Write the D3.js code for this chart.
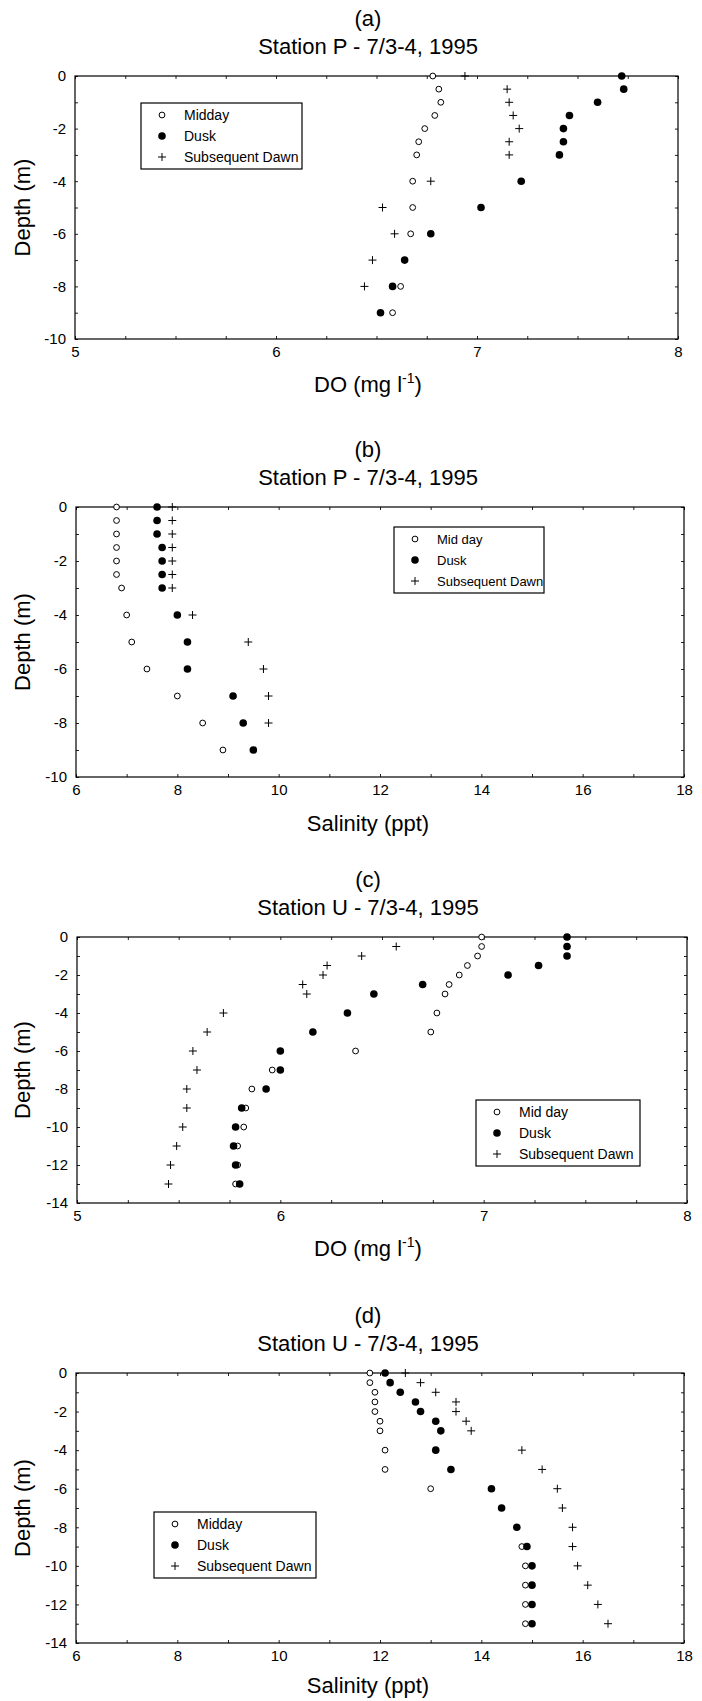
<!DOCTYPE html>
<meta charset="utf-8">
<style>
body { margin: 0; background: #fff; }
text { font-family: "Liberation Sans", Arial, sans-serif; fill: #000; }
</style>
<script src="https://cdn.jsdelivr.net/npm/d3@7"></script>
<body>
<script>
// depths (m) for the Station P profiles
var depthP = [0, -0.5, -1, -1.5, -2, -2.5, -3, -4, -5, -6, -7, -8, -9];
// depths (m) for the Station U profiles
var depthU = [0, -0.5, -1, -1.5, -2, -2.5, -3, -4, -5, -6, -7, -8, -9, -10, -11, -12, -13];

// (a) Station P, DO (mg/l)
var middayA = [6.78, 6.81, 6.82, 6.79, 6.74, 6.71, 6.70, 6.68, 6.68, 6.67, null, 6.62, 6.58];
var duskA   = [7.72, 7.73, 7.60, 7.46, 7.43, 7.43, 7.41, 7.22, 7.02, 6.77, 6.64, 6.58, 6.52];
var dawnA   = [6.94, 7.15, 7.16, 7.18, 7.21, 7.16, 7.16, 6.77, 6.53, 6.59, 6.48, 6.44, null];

// (b) Station P, salinity (ppt)
var middayB = [6.8, 6.8, 6.8, 6.8, 6.8, 6.8, 6.9, 7.0, 7.1, 7.4, 8.0, 8.5, 8.9];
var duskB   = [7.6, 7.6, 7.6, 7.7, 7.7, 7.7, 7.7, 8.0, 8.2, 8.2, 9.1, 9.3, 9.5];
var dawnB   = [7.9, 7.9, 7.9, 7.9, 7.9, 7.9, 7.9, 8.3, 9.4, 9.7, 9.8, 9.8, null];

// (c) Station U, DO (mg/l)
var middayC = [6.99, 6.99, 6.97, 6.92, 6.88, 6.83, 6.81, 6.77, 6.74, 6.37, 5.96, 5.86, 5.83, 5.82, 5.79, 5.79, 5.78];
var duskC   = [7.41, 7.41, 7.41, 7.27, 7.12, 6.70, 6.46, 6.33, 6.16, 6.00, 6.00, 5.93, 5.81, 5.78, 5.77, 5.78, 5.80];
var dawnC   = [null, 6.57, 6.40, 6.23, 6.21, 6.11, 6.13, 5.72, 5.64, 5.57, 5.59, 5.54, 5.54, 5.52, 5.49, 5.46, 5.45];

// (d) Station U, salinity (ppt)
var middayD = [11.8, 11.8, 11.9, 11.9, 11.9, 12.0, 12.0, 12.1, 12.1, 13.0, null, null, 14.8, 14.87, 14.87, 14.87, 14.87];
var duskD   = [12.1, 12.2, 12.4, 12.7, 12.8, 13.1, 13.2, 13.1, 13.4, 14.2, 14.4, 14.7, 14.9, 15.0, 15.0, 15.0, 15.0];
var dawnD   = [12.5, 12.8, 13.1, 13.5, 13.5, 13.7, 13.8, 14.8, 15.2, 15.5, 15.6, 15.8, 15.8, 15.9, 16.1, 16.3, 16.5];

// axis tick labels
var doTicks = [5, 6, 7, 8];
var salTicks = [6, 8, 10, 12, 14, 16, 18];
var depthTicksP = [0, -2, -4, -6, -8, -10];
var depthTicksU = [0, -2, -4, -6, -8, -10, -12, -14];

var titlesP = "Station P - 7/3-4, 1995";
var titlesU = "Station U - 7/3-4, 1995";

var svg = d3.select("body").append("svg")
  .attr("width", 702)
  .attr("height", 1701);

var plus = "M-4,0H4M0,-4V4";

function drawPanel(p) {
  var x = d3.scaleLinear().domain(p.xDomain).range([p.left, p.right]);
  var y = d3.scaleLinear().domain(p.yDomain).range([p.top, p.bottom]);
  var g = svg.append("g");

  // headings
  g.append("text").attr("x", 368).attr("y", p.top - 50)
    .attr("text-anchor", "middle").attr("font-size", "22px").text(p.letter);
  g.append("text").attr("x", 368).attr("y", p.top - 22)
    .attr("text-anchor", "middle").attr("font-size", "22px").text(p.title);

  // minor inward ticks on all four sides
  var xMinor = d3.range(p.xDomain[0], p.xDomain[1] + 1e-9, p.xStep);
  var yMinor = d3.range(p.yDomain[1], p.yDomain[0] + 1e-9, 1);
  g.append("g").attr("transform", "translate(0," + p.bottom + ")")
    .call(d3.axisBottom(x).tickValues(xMinor).tickSize(-3).tickFormat(""));
  g.append("g").attr("transform", "translate(0," + p.top + ")")
    .call(d3.axisTop(x).tickValues(xMinor).tickSize(-3).tickFormat(""));
  g.append("g").attr("transform", "translate(" + p.left + ",0)")
    .call(d3.axisLeft(y).tickValues(yMinor).tickSize(-3).tickFormat(""));
  g.append("g").attr("transform", "translate(" + p.right + ",0)")
    .call(d3.axisRight(y).tickValues(yMinor).tickSize(-3).tickFormat(""));
  g.selectAll(".domain").remove();
  g.selectAll(".tick line").attr("stroke", "#222");

  // tick labels
  var xl = g.append("g").attr("transform", "translate(0," + p.bottom + ")")
    .call(d3.axisBottom(x).tickValues(p.xTicks).tickSize(0).tickPadding(7).tickFormat(function(d) { return String(d); }));
  var yl = g.append("g").attr("transform", "translate(" + p.left + ",0)")
    .call(d3.axisLeft(y).tickValues(p.yTicks).tickSize(0).tickPadding(9).tickFormat(function(d) { return String(d); }));
  xl.select(".domain").remove();
  yl.select(".domain").remove();
  g.selectAll(".tick text").attr("font-size", "15px")
    .attr("font-family", "'Liberation Sans', Arial, sans-serif").attr("fill", "#000");

  // plot frame
  g.append("rect")
    .attr("x", p.left).attr("y", p.top)
    .attr("width", p.right - p.left).attr("height", p.bottom - p.top)
    .attr("fill", "none").attr("stroke", "#000").attr("stroke-width", 1.2);

  // axis titles
  var xt = g.append("text").attr("x", 368).attr("y", p.bottom + p.xLabelGap)
    .attr("text-anchor", "middle").attr("font-size", "22px");
  if (p.xLabel === "DO") {
    xt.append("tspan").text("DO (mg l");
    xt.append("tspan").attr("font-size", "14px").attr("dy", -9).text("-1");
    xt.append("tspan").attr("dy", 9).text(")");
  } else {
    xt.text(p.xLabel);
  }
  g.append("text")
    .attr("transform", "translate(30," + ((p.top + p.bottom) / 2) + ") rotate(-90)")
    .attr("text-anchor", "middle").attr("font-size", "22px").text("Depth (m)");

  // data
  function pts(vals) {
    return p.depth.map(function(d, i) { return { v: vals[i], d: d }; })
      .filter(function(e) { return e.v !== null; });
  }
  g.append("g").selectAll("circle").data(pts(p.midday)).enter().append("circle")
    .attr("cx", function(e) { return x(e.v); }).attr("cy", function(e) { return y(e.d); })
    .attr("r", 2.9).attr("fill", "#fff").attr("stroke", "#000").attr("stroke-width", 1);
  g.append("g").selectAll("circle").data(pts(p.dusk)).enter().append("circle")
    .attr("cx", function(e) { return x(e.v); }).attr("cy", function(e) { return y(e.d); })
    .attr("r", 3.8).attr("fill", "#000");
  g.append("g").selectAll("path").data(pts(p.dawn)).enter().append("path")
    .attr("d", plus)
    .attr("transform", function(e) { return "translate(" + x(e.v) + "," + y(e.d) + ")"; })
    .attr("stroke", "#000").attr("stroke-width", 1).attr("fill", "none");

  // legend
  var L = p.legend;
  var lg = g.append("g");
  lg.append("rect").attr("x", L.x).attr("y", L.y).attr("width", L.w).attr("height", 66)
    .attr("fill", "#fff").attr("stroke", "#000").attr("stroke-width", 1.2);
  var names = [p.middayName, "Dusk", "Subsequent Dawn"];
  names.forEach(function(n, i) {
    var cy = L.y + 12 + i * 21;
    var sx = L.x + 21;
    if (i === 0) lg.append("circle").attr("cx", sx).attr("cy", cy).attr("r", 2.9)
      .attr("fill", "#fff").attr("stroke", "#000");
    if (i === 1) lg.append("circle").attr("cx", sx).attr("cy", cy).attr("r", 3.8).attr("fill", "#000");
    if (i === 2) lg.append("path").attr("d", plus)
      .attr("transform", "translate(" + sx + "," + cy + ")").attr("stroke", "#000");
    lg.append("text").attr("x", L.x + 43).attr("y", cy + 5).attr("font-size", L.font).text(n);
  });
}

drawPanel({ letter: "(a)", title: titlesP, xLabel: "DO", xDomain: [5, 8], xStep: 0.25, xTicks: doTicks,
  yDomain: [0, -10], yTicks: depthTicksP, depth: depthP, midday: middayA, dusk: duskA, dawn: dawnA,
  middayName: "Midday", top: 76, bottom: 339, left: 75, right: 678, xLabelGap: 53,
  legend: { x: 141, y: 103, w: 161, font: "14px" } });

drawPanel({ letter: "(b)", title: titlesP, xLabel: "Salinity (ppt)", xDomain: [6, 18], xStep: 1, xTicks: salTicks,
  yDomain: [0, -10], yTicks: depthTicksP, depth: depthP, midday: middayB, dusk: duskB, dawn: dawnB,
  middayName: "Mid day", top: 507, bottom: 777, left: 76, right: 684, xLabelGap: 54,
  legend: { x: 394, y: 527, w: 150, font: "13px" } });

drawPanel({ letter: "(c)", title: titlesU, xLabel: "DO", xDomain: [5, 8], xStep: 0.25, xTicks: doTicks,
  yDomain: [0, -14], yTicks: depthTicksU, depth: depthU, midday: middayC, dusk: duskC, dawn: dawnC,
  middayName: "Mid day", top: 937, bottom: 1203, left: 77, right: 687, xLabelGap: 53,
  legend: { x: 476, y: 1100, w: 164, font: "14px" } });

drawPanel({ letter: "(d)", title: titlesU, xLabel: "Salinity (ppt)", xDomain: [6, 18], xStep: 1, xTicks: salTicks,
  yDomain: [0, -14], yTicks: depthTicksU, depth: depthU, midday: middayD, dusk: duskD, dawn: dawnD,
  middayName: "Midday", top: 1373, bottom: 1643, left: 76, right: 684, xLabelGap: 50,
  legend: { x: 154, y: 1512, w: 162, font: "14px" } });
</script>
</body>
